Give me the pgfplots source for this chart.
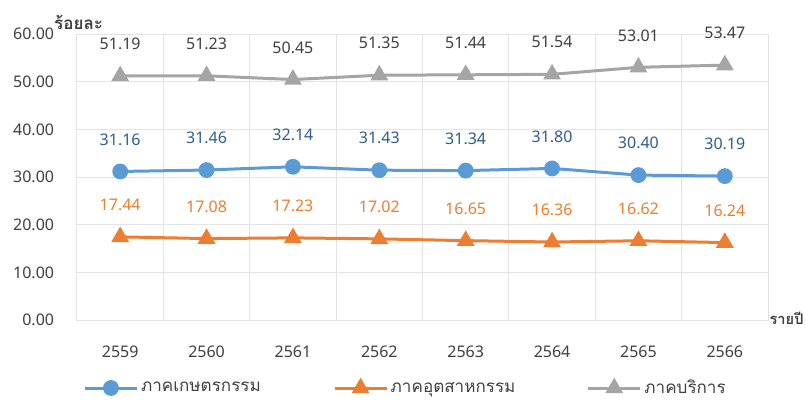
\documentclass[border=0pt]{standalone}
\usepackage{fontspec}
\setmainfont{Noto Sans}
\newfontfamily\thai[Script=Thai]{Loma}
\usepackage{pgfplots}
\pgfplotsset{compat=1.18}
\definecolor{cblue}{HTML}{5B9BD5}
\definecolor{corange}{HTML}{ED7D31}
\definecolor{cgray}{HTML}{A5A5A5}
\definecolor{lblue}{HTML}{2E5F8C}
\definecolor{lgray}{HTML}{404040}
\definecolor{gridc}{HTML}{E3E3E3}
\newcommand\lab{\fontsize{12}{14}\selectfont}
\newcommand\leg{\fontsize{12.8}{14}\selectfont}

\begin{document}
\begin{tikzpicture}
\path[use as bounding box] (-57.75pt,-60pt) rectangle (546.75pt,240pt);
\begin{axis}[
  scale only axis, width=518.25pt, height=214.5pt,
  clip=false,
  /pgf/number format/assume math mode=true,
  xmin=-0.5, xmax=7.5, ymin=0, ymax=60,
  xtick={0,...,7},
  xticklabels={2559,2560,2561,2562,2563,2564,2565,2566},
  minor xtick={-0.5,0.5,...,7.5},
  ytick={0,10,...,60},
  xminorgrids, ymajorgrids,
  major tick length=0pt, minor tick length=0pt,
  grid style={gridc, line width=0.75pt},
  minor grid style={gridc, line width=0.75pt},
  axis line style={draw=gridc, line width=0.75pt},
  tick label style={font=\lab, text=lgray},
  xticklabel style={anchor=center, yshift=-24pt},
  yticklabel style={anchor=east, inner sep=0pt, xshift=-17pt,
    /pgf/number format/.cd, fixed, fixed zerofill, precision=2},
  every node near coord/.append style={font=\lab, anchor=center, yshift=24pt},
  nodes near coords={\pgfmathprintnumber[fixed,fixed zerofill,precision=2]{\pgfplotspointmeta}},
  legend columns=3,
  legend style={at={(0.476,0)}, anchor=center, yshift=-51pt, draw=none,
    fill=none, font=\thai\leg, text=lgray, cells={anchor=west},
    inner sep=0pt, nodes={inner xsep=2pt}},
  legend image code/.code={
    \draw[mark repeat=2, mark phase=2, #1]
      plot coordinates {(0pt,0pt) (19.5pt,0pt) (39pt,0pt)};},
]
\addplot[cblue, line width=2.25pt, mark=*, mark size=4.8pt,
  every node near coord/.append style={text=lblue}]
  coordinates {(0,31.16) (1,31.46) (2,32.14) (3,31.43) (4,31.34) (5,31.80) (6,30.40) (7,30.19)};
\addlegendentry{\makebox[142pt][l]{ภาคเกษตรกรรม}}
\addplot[corange, line width=2.25pt, mark=triangle*, mark size=5.5pt,
  every node near coord/.append style={text=corange}]
  coordinates {(0,17.44) (1,17.08) (2,17.23) (3,17.02) (4,16.65) (5,16.36) (6,16.62) (7,16.24)};
\addlegendentry{\makebox[145pt][l]{ภาคอุตสาหกรรม}}
\addplot[cgray, line width=2.25pt, mark=triangle*, mark size=5.5pt,
  every node near coord/.append style={text=lgray}]
  coordinates {(0,51.19) (1,51.23) (2,50.45) (3,51.35) (4,51.44) (5,51.54) (6,53.01) (7,53.47)};
\addlegendentry{ภาคบริการ}
\node[font=\thai\bfseries\leg, text=lgray, anchor=center]
  at (rel axis cs:0,1) [xshift=1.2pt, yshift=9pt] {ร้อยละ};
\node[font=\thai\bfseries\fontsize{11}{13}\selectfont, text=lgray, anchor=west, inner sep=0pt]
  at (rel axis cs:1,0) [xshift=1pt, yshift=1pt] {รายปี};
\end{axis}
\end{tikzpicture}
\end{document}
